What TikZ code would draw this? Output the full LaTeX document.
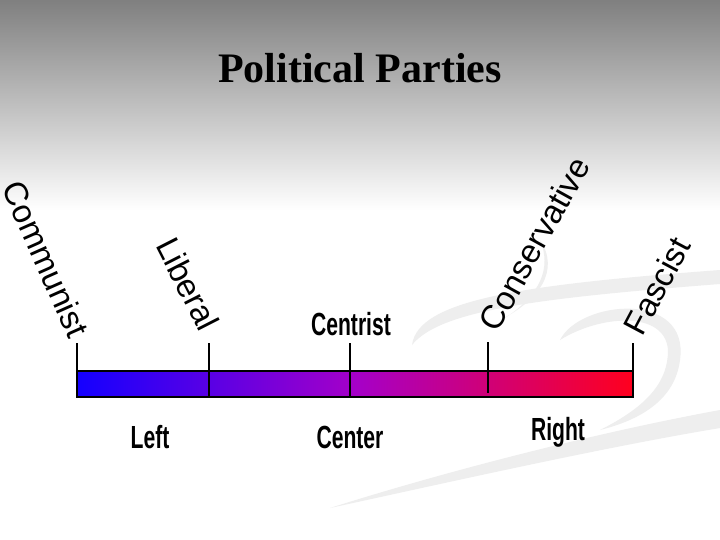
\documentclass[tikz,border=0pt]{standalone}
\usepackage{fontspec}
\setmainfont{Liberation Serif}
\setsansfont{Liberation Sans}
\usepackage{xcolor}
\definecolor{barblue}{RGB}{20,0,255}
\definecolor{barmid}{RGB}{165,0,200}
\definecolor{barred}{RGB}{255,0,30}
\definecolor{swoosh}{RGB}{238,238,238}

\begin{document}
\begin{tikzpicture}[x=1pt, y=-1pt]
                \tikzstyle{title} = [font=\bfseries\fontsize{42}{42}\selectfont, inner sep=0pt]
                \tikzstyle{party} = [font=\sffamily\fontsize{33}{33}\selectfont, inner sep=0pt]
                \tikzstyle{side} = [font=\sffamily\bfseries\fontsize{32}{32}\selectfont, xscale=0.66, transform shape, inner sep=0pt]
                \tikzstyle{tick} = [line width=1.5pt]
                
                % background
                \useasboundingbox (0,0) rectangle (720,540);
                \fill[white] (0,0) rectangle (720,540);
                \shade[top color=black!50, bottom color=white] (0,0) rectangle (720,210);
                \fill[swoosh] (330,508) .. controls (450,470) and (600,432) .. (720,410) -- (720,428) .. controls (600,448) and (450,482) .. (330,508);
                \fill[swoosh] (412,345) .. controls (418,300) and (520,285) .. (720,270) -- (720,284) .. controls (540,298) and (440,310) .. (412,345);
                \fill[swoosh] (540,240) .. controls (560,270) and (540,300) .. (500,320) -- (505,318) .. controls (540,295) and (552,268) .. (540,240);
                \fill[swoosh] (560,340) .. controls (580,300) and (690,290) .. (680,360) .. controls (675,400) and (640,420) .. (600,430) .. controls (650,405) and (668,380) .. (668,350) .. controls (665,310) and (600,315) .. (560,340);
                
                \node (heading) [title] at (360,68) {Political Parties};
                
                % the scale
                \shade[left color=barblue, right color=barred, middle color=barmid] (77,371) rectangle (633,397);
                \draw[line width=1.5pt] (77,371) rectangle (633,397);
                
                \coordinate (t1) at (77,343);  \coordinate (b1) at (77,397);
                \coordinate (t2) at (209,343); \coordinate (b2) at (209,397);
                \coordinate (t3) at (350,343); \coordinate (b3) at (350,397);
                \coordinate (t4) at (488,342); \coordinate (b4) at (488,393);
                \coordinate (t5) at (633,343); \coordinate (b5) at (633,397);
                \foreach \i in {1,...,5}
                    \draw [tick] (t\i) -- (b\i);
                
                \node (communist) [party, rotate=-66] at (46,259) {Communist};
                \node (liberal) [party, rotate=-63] at (188,284) {Liberal};
                \node (centrist) [side] at (351,324) {Centrist};
                \node (conservative) [party, rotate=61] at (534,244) {Conservative};
                \node (fascist) [party, rotate=62] at (657,286) {Fascist};
                
                \node (left) [side] at (150,437) {Left};
                \node (center) [side] at (350,437) {Center};
                \node (right) [side] at (558,432) {Right};
            \end{tikzpicture}
\end{document}
